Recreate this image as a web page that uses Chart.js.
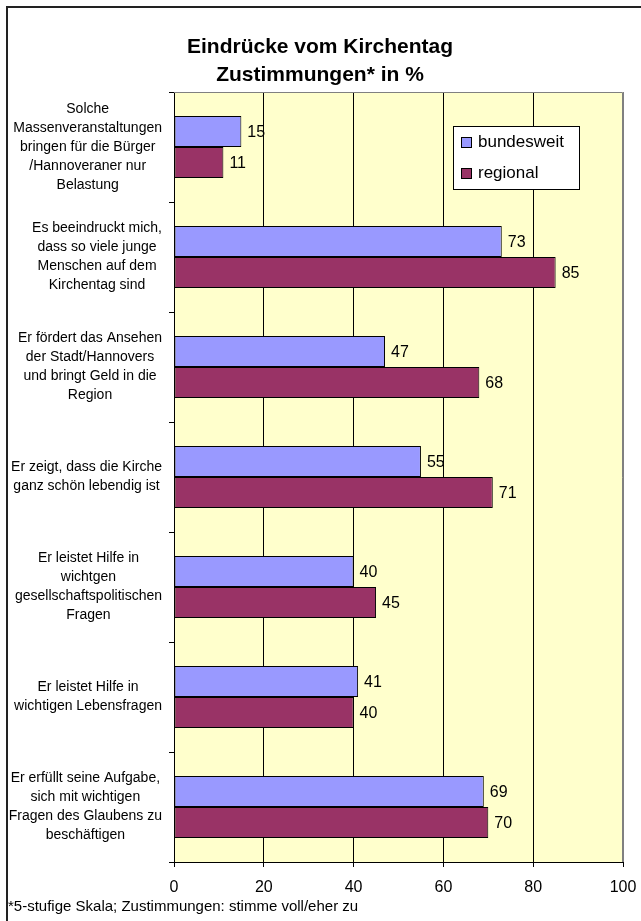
<!DOCTYPE html>
<html>
<head>
<meta charset="utf-8">
<script src="https://cdn.jsdelivr.net/npm/chart.js@4.4.1/dist/chart.umd.min.js"></script>
<style>
  html, body { margin: 0; padding: 0; background: #fff; }
  #wrap { width: 641px; height: 921px; }
</style>
</head>
<body>
<div id="wrap"><canvas id="kirchentagChart" width="641" height="921"></canvas></div>
<script>
// Survey answers, share of agreement in percent
const categories = [
    ['Solche', 'Massenveranstaltungen', 'bringen für die Bürger', '/Hannoveraner nur', 'Belastung'],
    ['Es beeindruckt mich,', 'dass so viele junge', 'Menschen auf dem', 'Kirchentag sind'],
    ['Er fördert das Ansehen', 'der Stadt/Hannovers', 'und bringt Geld in die', 'Region'],
    ['Er zeigt, dass die Kirche', 'ganz schön lebendig ist'],
    ['Er leistet Hilfe in', 'wichtgen', 'gesellschaftspolitischen', 'Fragen'],
    ['Er leistet Hilfe in', 'wichtigen Lebensfragen'],
    ['Er erfüllt seine Aufgabe,', 'sich mit wichtigen', 'Fragen des Glaubens zu', 'beschäftigen']
];
const bundesweit = [15, 73, 47, 55, 40, 41, 69];
const regional = [11, 85, 68, 71, 45, 40, 70];
const xTicks = [0, 20, 40, 60, 80, 100];

const FONT = '"Liberation Sans", Arial, sans-serif';
const titleLines = ['Eindrücke vom Kirchentag', 'Zustimmungen* in %'];
const footnote = '*5-stufige Skala; Zustimmungen: stimme voll/eher zu';

// Yellow plot background, drawn before the grid
const plotBackground = {
    id: 'plotBackground',
    beforeDraw(chart) {
        const { ctx, chartArea: a } = chart;
        ctx.save();
        ctx.fillStyle = '#FFFFCC';
        ctx.fillRect(a.left, a.top, a.right - a.left, a.bottom - a.top);
        ctx.restore();
    }
};

// Category texts: each block right-aligned, its lines centred inside the block
const categoryLabels = {
    id: 'categoryLabels',
    afterDraw(chart) {
        const { ctx } = chart;
        const yScale = chart.scales.y;
        ctx.save();
        ctx.font = '14px ' + FONT;
        ctx.fillStyle = '#000';
        ctx.textAlign = 'center';
        ctx.textBaseline = 'middle';
        categories.forEach((lines, i) => {
            const yc = yScale.getPixelForValue(i);
            const widest = Math.max(...lines.map(l => ctx.measureText(l).width));
            const xc = yScale.right - 12 - widest / 2;
            lines.forEach((line, j) => {
                ctx.fillText(line, xc, yc + (j - (lines.length - 1) / 2) * 19);
            });
        });
        ctx.restore();
    }
};

// Value next to the end of every bar
const valueLabels = {
    id: 'valueLabels',
    afterDatasetsDraw(chart) {
        const { ctx } = chart;
        ctx.save();
        ctx.font = '16px ' + FONT;
        ctx.fillStyle = '#000';
        ctx.textAlign = 'left';
        ctx.textBaseline = 'middle';
        chart.data.datasets.forEach((ds, di) => {
            chart.getDatasetMeta(di).data.forEach((bar, i) => {
                ctx.fillText(String(ds.data[i]), bar.x + 6, bar.y + 1);
            });
        });
        ctx.restore();
    }
};

// Title, frame lines, legend box and footnote
const decorations = {
    id: 'decorations',
    afterDraw(chart) {
        const { ctx, chartArea: a } = chart;
        ctx.save();

        // two-line title, centred on the canvas
        ctx.font = 'bold 21px ' + FONT;
        ctx.fillStyle = '#000';
        ctx.textAlign = 'center';
        ctx.textBaseline = 'middle';
        titleLines.forEach((t, i) => ctx.fillText(t, 320, 47 + i * 28));

        // grey top and right edge of the plot
        ctx.strokeStyle = '#808080';
        ctx.lineWidth = 1;
        ctx.beginPath();
        ctx.moveTo(a.left, a.top + 0.5);
        ctx.lineTo(a.right - 0.5, a.top + 0.5);
        ctx.lineTo(a.right - 0.5, a.bottom);
        ctx.stroke();

        // outer frame (left and top)
        ctx.strokeStyle = '#222';
        ctx.lineWidth = 2;
        ctx.beginPath();
        ctx.moveTo(7, chart.height);
        ctx.lineTo(7, 7);
        ctx.lineTo(chart.width, 7);
        ctx.stroke();

        // legend
        const lx = a.right - 170, ly = a.top + 34, lw = 126, lh = 63;
        ctx.fillStyle = '#fff';
        ctx.fillRect(lx, ly, lw, lh);
        ctx.strokeStyle = '#000';
        ctx.lineWidth = 1;
        ctx.strokeRect(lx + 0.5, ly + 0.5, lw, lh);
        ctx.font = '17px ' + FONT;
        ctx.textAlign = 'left';
        chart.data.datasets.forEach((ds, i) => {
            const cy = ly + 16 + i * 31;
            ctx.fillStyle = ds.backgroundColor;
            ctx.fillRect(lx + 8, cy - 5, 11, 11);
            ctx.strokeStyle = '#000';
            ctx.strokeRect(lx + 8.5, cy - 4.5, 10, 10);
            ctx.fillStyle = '#000';
            ctx.fillText(ds.label, lx + 25, cy);
        });

        // footnote
        ctx.font = '15px ' + FONT;
        ctx.fillText(footnote, 8, 907);
        ctx.restore();
    }
};

new Chart(document.getElementById('kirchentagChart'), {
    type: 'bar',
    data: {
        labels: categories,
        datasets: [
            {
                label: 'bundesweit',
                data: bundesweit,
                backgroundColor: '#9999FF',
                borderColor: '#000',
                borderWidth: 1,
                borderSkipped: false
            },
            {
                label: 'regional',
                data: regional,
                backgroundColor: '#993366',
                borderColor: '#000',
                borderWidth: 1,
                borderSkipped: false
            }
        ]
    },
    options: {
        indexAxis: 'y',
        responsive: false,
        animation: false,
        categoryPercentage: 0.564,
        barPercentage: 1,
        layout: { padding: { top: 92, right: 18, bottom: 0, left: 0 } },
        plugins: {
            legend: { display: false },
            tooltip: { enabled: false },
            title: { display: false }
        },
        scales: {
            x: {
                min: 0,
                max: 100,
                afterBuildTicks: scale => { scale.ticks = xTicks.map(v => ({ value: v })); },
                afterFit: scale => {
                    // fixed axis height; the edge labels may overhang the plot
                    scale.height = 59;
                    scale.paddingLeft = 0;
                    scale.paddingRight = 0;
                },
                grid: {
                    color: c => (c.tick && c.tick.value === 100) ? '#808080' : '#000',
                    tickColor: '#000',
                    tickLength: 5
                },
                border: { display: true, color: '#000' },
                ticks: {
                    color: '#000',
                    padding: 11,
                    font: { family: FONT, size: 16 }
                }
            },
            y: {
                afterFit: scale => { scale.width = 174; },
                grid: {
                    offset: true,
                    drawOnChartArea: false,
                    color: '#000',
                    tickLength: 5
                },
                border: { display: true, color: '#000' },
                ticks: { display: false }
            }
        }
    },
    plugins: [plotBackground, valueLabels, categoryLabels, decorations]
});
</script>
</body>
</html>
